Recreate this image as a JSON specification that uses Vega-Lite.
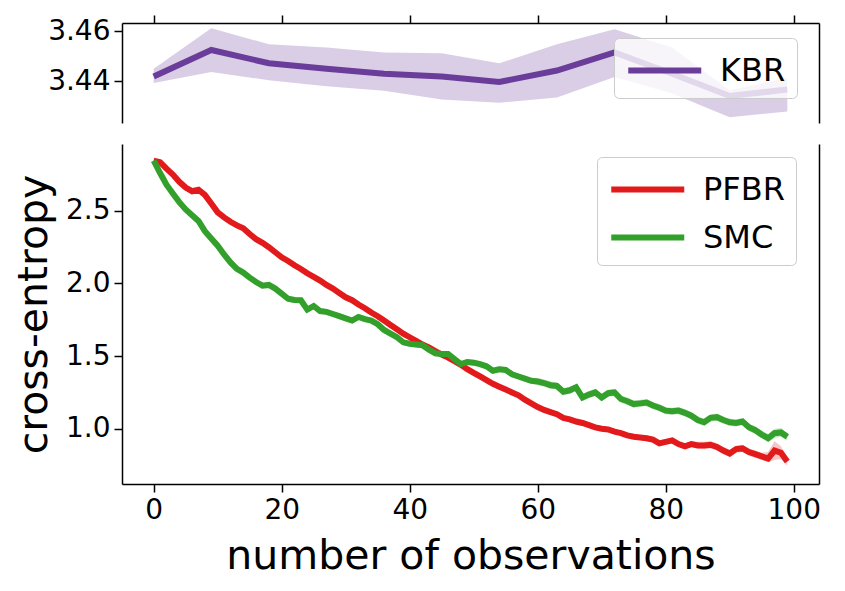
{
"$schema":"https://vega.github.io/schema/vega-lite/v6.json",
"autosize":{"type":"pad"},
"padding":{"left":13,"top":14,"right":0,"bottom":15},
"background":"white",
"config":{
 "view":{"stroke":null},
 "font":"DejaVu Sans",
 "axis":{"labelFont":"DejaVu Sans","titleFont":"DejaVu Sans","labelFontSize":28,"labelColor":"#000","tickColor":"#000","domainColor":"#000","tickSize":8,"tickWidth":1.5,"domainWidth":1.5,"grid":false,"labelPadding":4,"titleFontWeight":"normal","titleColor":"#000","titleFontSize":41},
 "legend":{"orient":"none","title":null,"symbolType":"M-1,0H3","symbolSize":1332,"symbolStrokeWidth":6,"labelFont":"DejaVu Sans","labelFontSize":32,"labelColor":"#000","labelOffset":52,"fillColor":"rgba(255,255,255,0.8)","strokeColor":"#cccccc","cornerRadius":5,"padding":11,"rowPadding":10}
},
"datasets":{
"kbr":[
{"x":0,"s":"KBR","v":3.4418,"lo":3.4392,"hi":3.4449},
{"x":9,"s":"KBR","v":3.4524,"lo":3.4436,"hi":3.4611},
{"x":18,"s":"KBR","v":3.4471,"lo":3.4403,"hi":3.4547},
{"x":27,"s":"KBR","v":3.4449,"lo":3.4379,"hi":3.4534},
{"x":36,"s":"KBR","v":3.4429,"lo":3.4361,"hi":3.4514},
{"x":45,"s":"KBR","v":3.4418,"lo":3.4326,"hi":3.4511},
{"x":54,"s":"KBR","v":3.4396,"lo":3.4313,"hi":3.4471},
{"x":63,"s":"KBR","v":3.4442,"lo":3.4334,"hi":3.4547},
{"x":72,"s":"KBR","v":3.4514,"lo":3.4416,"hi":3.4607},
{"x":81,"s":"KBR","v":3.4429,"lo":3.435,"hi":3.4534},
{"x":90,"s":"KBR","v":3.434,"lo":3.4255,"hi":3.4363},
{"x":99,"s":"KBR","v":3.4366,"lo":3.4278,"hi":3.4413}
],
"main":[
{"x":0,"s":"PFBR","v":2.845,"lo":2.835,"hi":2.855},
{"x":1,"s":"PFBR","v":2.835,"lo":2.825,"hi":2.845},
{"x":2,"s":"PFBR","v":2.79,"lo":2.775,"hi":2.805},
{"x":3,"s":"PFBR","v":2.75,"lo":2.735,"hi":2.765},
{"x":4,"s":"PFBR","v":2.70,"lo":2.685,"hi":2.715},
{"x":5,"s":"PFBR","v":2.66,"lo":2.645,"hi":2.675},
{"x":6,"s":"PFBR","v":2.635,"lo":2.62,"hi":2.65},
{"x":7,"s":"PFBR","v":2.645,"lo":2.63,"hi":2.66},
{"x":8,"s":"PFBR","v":2.61,"lo":2.595,"hi":2.625},
{"x":9,"s":"PFBR","v":2.55,"lo":2.535,"hi":2.565},
{"x":10,"s":"PFBR","v":2.49,"lo":2.475,"hi":2.505},
{"x":11,"s":"PFBR","v":2.455,"lo":2.44,"hi":2.47},
{"x":12,"s":"PFBR","v":2.425,"lo":2.41,"hi":2.44},
{"x":13,"s":"PFBR","v":2.40,"lo":2.385,"hi":2.415},
{"x":14,"s":"PFBR","v":2.38,"lo":2.365,"hi":2.395},
{"x":15,"s":"PFBR","v":2.34,"lo":2.325,"hi":2.355},
{"x":16,"s":"PFBR","v":2.305,"lo":2.29,"hi":2.32},
{"x":17,"s":"PFBR","v":2.28,"lo":2.265,"hi":2.295},
{"x":18,"s":"PFBR","v":2.25,"lo":2.235,"hi":2.265},
{"x":19,"s":"PFBR","v":2.215,"lo":2.20,"hi":2.23},
{"x":20,"s":"PFBR","v":2.18,"lo":2.165,"hi":2.195},
{"x":21,"s":"PFBR","v":2.155,"lo":2.14,"hi":2.17},
{"x":22,"s":"PFBR","v":2.125,"lo":2.11,"hi":2.14},
{"x":23,"s":"PFBR","v":2.10,"lo":2.085,"hi":2.115},
{"x":24,"s":"PFBR","v":2.07,"lo":2.055,"hi":2.085},
{"x":25,"s":"PFBR","v":2.045,"lo":2.03,"hi":2.06},
{"x":26,"s":"PFBR","v":2.02,"lo":2.005,"hi":2.035},
{"x":27,"s":"PFBR","v":1.99,"lo":1.975,"hi":2.005},
{"x":28,"s":"PFBR","v":1.965,"lo":1.95,"hi":1.98},
{"x":29,"s":"PFBR","v":1.935,"lo":1.92,"hi":1.95},
{"x":30,"s":"PFBR","v":1.905,"lo":1.89,"hi":1.92},
{"x":31,"s":"PFBR","v":1.885,"lo":1.87,"hi":1.90},
{"x":32,"s":"PFBR","v":1.855,"lo":1.84,"hi":1.87},
{"x":33,"s":"PFBR","v":1.83,"lo":1.815,"hi":1.845},
{"x":34,"s":"PFBR","v":1.80,"lo":1.785,"hi":1.815},
{"x":35,"s":"PFBR","v":1.775,"lo":1.76,"hi":1.79},
{"x":36,"s":"PFBR","v":1.745,"lo":1.73,"hi":1.76},
{"x":37,"s":"PFBR","v":1.715,"lo":1.70,"hi":1.73},
{"x":38,"s":"PFBR","v":1.685,"lo":1.67,"hi":1.70},
{"x":39,"s":"PFBR","v":1.655,"lo":1.64,"hi":1.67},
{"x":40,"s":"PFBR","v":1.63,"lo":1.615,"hi":1.645},
{"x":41,"s":"PFBR","v":1.605,"lo":1.59,"hi":1.62},
{"x":42,"s":"PFBR","v":1.58,"lo":1.565,"hi":1.595},
{"x":43,"s":"PFBR","v":1.56,"lo":1.545,"hi":1.575},
{"x":44,"s":"PFBR","v":1.535,"lo":1.52,"hi":1.55},
{"x":45,"s":"PFBR","v":1.51,"lo":1.495,"hi":1.525},
{"x":46,"s":"PFBR","v":1.49,"lo":1.475,"hi":1.505},
{"x":47,"s":"PFBR","v":1.465,"lo":1.45,"hi":1.48},
{"x":48,"s":"PFBR","v":1.44,"lo":1.425,"hi":1.455},
{"x":49,"s":"PFBR","v":1.41,"lo":1.395,"hi":1.425},
{"x":50,"s":"PFBR","v":1.385,"lo":1.37,"hi":1.40},
{"x":51,"s":"PFBR","v":1.36,"lo":1.345,"hi":1.375},
{"x":52,"s":"PFBR","v":1.335,"lo":1.32,"hi":1.35},
{"x":53,"s":"PFBR","v":1.31,"lo":1.295,"hi":1.325},
{"x":54,"s":"PFBR","v":1.29,"lo":1.275,"hi":1.305},
{"x":55,"s":"PFBR","v":1.27,"lo":1.255,"hi":1.285},
{"x":56,"s":"PFBR","v":1.25,"lo":1.235,"hi":1.265},
{"x":57,"s":"PFBR","v":1.23,"lo":1.215,"hi":1.245},
{"x":58,"s":"PFBR","v":1.20,"lo":1.185,"hi":1.215},
{"x":59,"s":"PFBR","v":1.175,"lo":1.16,"hi":1.19},
{"x":60,"s":"PFBR","v":1.15,"lo":1.135,"hi":1.165},
{"x":61,"s":"PFBR","v":1.13,"lo":1.115,"hi":1.145},
{"x":62,"s":"PFBR","v":1.115,"lo":1.10,"hi":1.13},
{"x":63,"s":"PFBR","v":1.10,"lo":1.085,"hi":1.115},
{"x":64,"s":"PFBR","v":1.075,"lo":1.06,"hi":1.09},
{"x":65,"s":"PFBR","v":1.065,"lo":1.05,"hi":1.08},
{"x":66,"s":"PFBR","v":1.05,"lo":1.035,"hi":1.065},
{"x":67,"s":"PFBR","v":1.04,"lo":1.025,"hi":1.055},
{"x":68,"s":"PFBR","v":1.025,"lo":1.01,"hi":1.04},
{"x":69,"s":"PFBR","v":1.01,"lo":0.995,"hi":1.025},
{"x":70,"s":"PFBR","v":1.00,"lo":0.985,"hi":1.015},
{"x":71,"s":"PFBR","v":0.995,"lo":0.98,"hi":1.01},
{"x":72,"s":"PFBR","v":0.98,"lo":0.965,"hi":0.995},
{"x":73,"s":"PFBR","v":0.97,"lo":0.955,"hi":0.985},
{"x":74,"s":"PFBR","v":0.955,"lo":0.94,"hi":0.97},
{"x":75,"s":"PFBR","v":0.945,"lo":0.93,"hi":0.96},
{"x":76,"s":"PFBR","v":0.94,"lo":0.925,"hi":0.955},
{"x":77,"s":"PFBR","v":0.935,"lo":0.915,"hi":0.955},
{"x":78,"s":"PFBR","v":0.925,"lo":0.905,"hi":0.945},
{"x":79,"s":"PFBR","v":0.90,"lo":0.88,"hi":0.92},
{"x":80,"s":"PFBR","v":0.91,"lo":0.89,"hi":0.93},
{"x":81,"s":"PFBR","v":0.92,"lo":0.90,"hi":0.94},
{"x":82,"s":"PFBR","v":0.895,"lo":0.875,"hi":0.915},
{"x":83,"s":"PFBR","v":0.88,"lo":0.86,"hi":0.90},
{"x":84,"s":"PFBR","v":0.895,"lo":0.875,"hi":0.915},
{"x":85,"s":"PFBR","v":0.885,"lo":0.865,"hi":0.91},
{"x":86,"s":"PFBR","v":0.885,"lo":0.86,"hi":0.91},
{"x":87,"s":"PFBR","v":0.89,"lo":0.865,"hi":0.915},
{"x":88,"s":"PFBR","v":0.875,"lo":0.85,"hi":0.90},
{"x":89,"s":"PFBR","v":0.85,"lo":0.825,"hi":0.875},
{"x":90,"s":"PFBR","v":0.83,"lo":0.805,"hi":0.855},
{"x":91,"s":"PFBR","v":0.86,"lo":0.835,"hi":0.885},
{"x":92,"s":"PFBR","v":0.865,"lo":0.84,"hi":0.89},
{"x":93,"s":"PFBR","v":0.84,"lo":0.815,"hi":0.865},
{"x":94,"s":"PFBR","v":0.825,"lo":0.80,"hi":0.85},
{"x":95,"s":"PFBR","v":0.81,"lo":0.785,"hi":0.835},
{"x":96,"s":"PFBR","v":0.795,"lo":0.77,"hi":0.84},
{"x":97,"s":"PFBR","v":0.85,"lo":0.785,"hi":0.915},
{"x":98,"s":"PFBR","v":0.835,"lo":0.79,"hi":0.88},
{"x":99,"s":"PFBR","v":0.775,"lo":0.745,"hi":0.805},
{"x":0,"s":"SMC","v":2.845,"lo":2.835,"hi":2.855},
{"x":1,"s":"SMC","v":2.76,"lo":2.745,"hi":2.775},
{"x":2,"s":"SMC","v":2.68,"lo":2.665,"hi":2.695},
{"x":3,"s":"SMC","v":2.62,"lo":2.60,"hi":2.64},
{"x":4,"s":"SMC","v":2.56,"lo":2.54,"hi":2.58},
{"x":5,"s":"SMC","v":2.51,"lo":2.49,"hi":2.53},
{"x":6,"s":"SMC","v":2.47,"lo":2.45,"hi":2.49},
{"x":7,"s":"SMC","v":2.43,"lo":2.41,"hi":2.45},
{"x":8,"s":"SMC","v":2.36,"lo":2.34,"hi":2.38},
{"x":9,"s":"SMC","v":2.31,"lo":2.29,"hi":2.33},
{"x":10,"s":"SMC","v":2.26,"lo":2.24,"hi":2.28},
{"x":11,"s":"SMC","v":2.20,"lo":2.18,"hi":2.22},
{"x":12,"s":"SMC","v":2.145,"lo":2.125,"hi":2.165},
{"x":13,"s":"SMC","v":2.10,"lo":2.08,"hi":2.12},
{"x":14,"s":"SMC","v":2.075,"lo":2.055,"hi":2.095},
{"x":15,"s":"SMC","v":2.04,"lo":2.02,"hi":2.06},
{"x":16,"s":"SMC","v":2.01,"lo":1.99,"hi":2.03},
{"x":17,"s":"SMC","v":1.985,"lo":1.965,"hi":2.005},
{"x":18,"s":"SMC","v":1.99,"lo":1.97,"hi":2.01},
{"x":19,"s":"SMC","v":1.965,"lo":1.945,"hi":1.985},
{"x":20,"s":"SMC","v":1.93,"lo":1.91,"hi":1.95},
{"x":21,"s":"SMC","v":1.895,"lo":1.875,"hi":1.915},
{"x":22,"s":"SMC","v":1.886,"lo":1.866,"hi":1.906},
{"x":23,"s":"SMC","v":1.885,"lo":1.865,"hi":1.905},
{"x":24,"s":"SMC","v":1.82,"lo":1.80,"hi":1.84},
{"x":25,"s":"SMC","v":1.845,"lo":1.825,"hi":1.865},
{"x":26,"s":"SMC","v":1.81,"lo":1.79,"hi":1.83},
{"x":27,"s":"SMC","v":1.805,"lo":1.785,"hi":1.825},
{"x":28,"s":"SMC","v":1.79,"lo":1.77,"hi":1.81},
{"x":29,"s":"SMC","v":1.775,"lo":1.755,"hi":1.795},
{"x":30,"s":"SMC","v":1.76,"lo":1.74,"hi":1.78},
{"x":31,"s":"SMC","v":1.745,"lo":1.725,"hi":1.765},
{"x":32,"s":"SMC","v":1.77,"lo":1.75,"hi":1.79},
{"x":33,"s":"SMC","v":1.755,"lo":1.735,"hi":1.775},
{"x":34,"s":"SMC","v":1.745,"lo":1.725,"hi":1.765},
{"x":35,"s":"SMC","v":1.72,"lo":1.70,"hi":1.74},
{"x":36,"s":"SMC","v":1.68,"lo":1.66,"hi":1.70},
{"x":37,"s":"SMC","v":1.655,"lo":1.635,"hi":1.675},
{"x":38,"s":"SMC","v":1.63,"lo":1.61,"hi":1.65},
{"x":39,"s":"SMC","v":1.595,"lo":1.575,"hi":1.615},
{"x":40,"s":"SMC","v":1.585,"lo":1.565,"hi":1.605},
{"x":41,"s":"SMC","v":1.58,"lo":1.56,"hi":1.60},
{"x":42,"s":"SMC","v":1.575,"lo":1.555,"hi":1.595},
{"x":43,"s":"SMC","v":1.545,"lo":1.525,"hi":1.565},
{"x":44,"s":"SMC","v":1.52,"lo":1.50,"hi":1.54},
{"x":45,"s":"SMC","v":1.515,"lo":1.495,"hi":1.535},
{"x":46,"s":"SMC","v":1.515,"lo":1.495,"hi":1.535},
{"x":47,"s":"SMC","v":1.48,"lo":1.46,"hi":1.50},
{"x":48,"s":"SMC","v":1.445,"lo":1.425,"hi":1.465},
{"x":49,"s":"SMC","v":1.46,"lo":1.44,"hi":1.48},
{"x":50,"s":"SMC","v":1.455,"lo":1.435,"hi":1.475},
{"x":51,"s":"SMC","v":1.445,"lo":1.425,"hi":1.465},
{"x":52,"s":"SMC","v":1.43,"lo":1.41,"hi":1.45},
{"x":53,"s":"SMC","v":1.40,"lo":1.38,"hi":1.42},
{"x":54,"s":"SMC","v":1.41,"lo":1.39,"hi":1.43},
{"x":55,"s":"SMC","v":1.405,"lo":1.385,"hi":1.425},
{"x":56,"s":"SMC","v":1.375,"lo":1.355,"hi":1.395},
{"x":57,"s":"SMC","v":1.36,"lo":1.34,"hi":1.38},
{"x":58,"s":"SMC","v":1.345,"lo":1.325,"hi":1.365},
{"x":59,"s":"SMC","v":1.33,"lo":1.31,"hi":1.35},
{"x":60,"s":"SMC","v":1.325,"lo":1.30,"hi":1.35},
{"x":61,"s":"SMC","v":1.315,"lo":1.29,"hi":1.34},
{"x":62,"s":"SMC","v":1.30,"lo":1.275,"hi":1.325},
{"x":63,"s":"SMC","v":1.295,"lo":1.27,"hi":1.32},
{"x":64,"s":"SMC","v":1.255,"lo":1.23,"hi":1.28},
{"x":65,"s":"SMC","v":1.265,"lo":1.24,"hi":1.29},
{"x":66,"s":"SMC","v":1.285,"lo":1.26,"hi":1.31},
{"x":67,"s":"SMC","v":1.215,"lo":1.19,"hi":1.24},
{"x":68,"s":"SMC","v":1.235,"lo":1.21,"hi":1.26},
{"x":69,"s":"SMC","v":1.25,"lo":1.225,"hi":1.275},
{"x":70,"s":"SMC","v":1.215,"lo":1.19,"hi":1.24},
{"x":71,"s":"SMC","v":1.245,"lo":1.22,"hi":1.27},
{"x":72,"s":"SMC","v":1.25,"lo":1.225,"hi":1.275},
{"x":73,"s":"SMC","v":1.205,"lo":1.18,"hi":1.23},
{"x":74,"s":"SMC","v":1.19,"lo":1.165,"hi":1.215},
{"x":75,"s":"SMC","v":1.17,"lo":1.145,"hi":1.195},
{"x":76,"s":"SMC","v":1.175,"lo":1.15,"hi":1.20},
{"x":77,"s":"SMC","v":1.18,"lo":1.155,"hi":1.205},
{"x":78,"s":"SMC","v":1.16,"lo":1.135,"hi":1.185},
{"x":79,"s":"SMC","v":1.145,"lo":1.12,"hi":1.17},
{"x":80,"s":"SMC","v":1.125,"lo":1.10,"hi":1.15},
{"x":81,"s":"SMC","v":1.12,"lo":1.095,"hi":1.145},
{"x":82,"s":"SMC","v":1.125,"lo":1.10,"hi":1.15},
{"x":83,"s":"SMC","v":1.11,"lo":1.085,"hi":1.135},
{"x":84,"s":"SMC","v":1.09,"lo":1.065,"hi":1.115},
{"x":85,"s":"SMC","v":1.06,"lo":1.035,"hi":1.085},
{"x":86,"s":"SMC","v":1.045,"lo":1.02,"hi":1.07},
{"x":87,"s":"SMC","v":1.075,"lo":1.05,"hi":1.10},
{"x":88,"s":"SMC","v":1.08,"lo":1.055,"hi":1.105},
{"x":89,"s":"SMC","v":1.06,"lo":1.035,"hi":1.085},
{"x":90,"s":"SMC","v":1.045,"lo":1.02,"hi":1.07},
{"x":91,"s":"SMC","v":1.04,"lo":1.015,"hi":1.065},
{"x":92,"s":"SMC","v":1.05,"lo":1.025,"hi":1.075},
{"x":93,"s":"SMC","v":1.01,"lo":0.985,"hi":1.035},
{"x":94,"s":"SMC","v":0.99,"lo":0.965,"hi":1.015},
{"x":95,"s":"SMC","v":0.96,"lo":0.935,"hi":0.985},
{"x":96,"s":"SMC","v":0.935,"lo":0.905,"hi":0.965},
{"x":97,"s":"SMC","v":0.97,"lo":0.935,"hi":1.00},
{"x":98,"s":"SMC","v":0.975,"lo":0.945,"hi":1.005},
{"x":99,"s":"SMC","v":0.945,"lo":0.92,"hi":0.97}
]
},
"resolve":{"scale":{"color":"independent","x":"independent","y":"independent"},"legend":{"color":"independent"}},
"spacing":21,
"vconcat":[
{
 "width":697,"height":100,
 "data":{"name":"kbr"},
 "layer":[
  {"layer":[
   {"mark":{"type":"area","opacity":0.25,"color":"#6a3d9a"},
    "encoding":{
     "x":{"field":"x","type":"quantitative","scale":{"domain":[-4.95,103.95],"nice":false,"zero":false},"axis":{"orient":"top","labels":false,"values":[0,20,40,60,80,100],"title":null}},
     "y":{"field":"lo","type":"quantitative","scale":{"domain":[3.4232,3.4632],"nice":false,"zero":false},"axis":{"values":[3.44,3.46],"format":".2f","title":null}},
     "y2":{"field":"hi"}}},
   {"mark":{"type":"line","strokeWidth":6},
    "encoding":{
     "x":{"field":"x","type":"quantitative"},
     "y":{"field":"v","type":"quantitative"},
     "color":{"field":"s","type":"nominal","scale":{"domain":["KBR"],"range":["#6a3d9a"]},"legend":{"legendX":492,"legendY":15}}}}
  ]},
  {"mark":{"type":"line","opacity":0},
   "encoding":{
    "x":{"field":"x","type":"quantitative"},
    "y":{"field":"v","type":"quantitative","axis":{"orient":"right","labels":false,"ticks":false,"title":null}}}}
 ],
 "resolve":{"axis":{"y":"independent"}}
},
{
 "width":697,"height":340,
 "data":{"name":"main"},
 "layer":[
  {"layer":[
   {"transform":[{"filter":"datum.s === 'PFBR'"}],
    "mark":{"type":"area","opacity":0.25,"color":"#e31a1c"},
    "encoding":{
     "x":{"field":"x","type":"quantitative","scale":{"domain":[-4.95,103.95],"nice":false,"zero":false},"axis":{"orient":"bottom","values":[0,20,40,60,80,100],"title":"number of observations","titlePadding":12}},
     "y":{"field":"lo","type":"quantitative","scale":{"domain":[0.62,2.96],"nice":false,"zero":false},"axis":{"values":[1.0,1.5,2.0,2.5],"format":".1f","title":"cross-entropy","titlePadding":10}},
     "y2":{"field":"hi"}}},
   {"transform":[{"filter":"datum.s === 'SMC'"}],
    "mark":{"type":"area","opacity":0.25,"color":"#33a02c"},
    "encoding":{
     "x":{"field":"x","type":"quantitative"},
     "y":{"field":"lo","type":"quantitative"},
     "y2":{"field":"hi"}}},
   {"mark":{"type":"line","strokeWidth":6},
    "encoding":{
     "x":{"field":"x","type":"quantitative"},
     "y":{"field":"v","type":"quantitative"},
     "color":{"field":"s","type":"nominal","scale":{"domain":["PFBR","SMC"],"range":["#e31a1c","#33a02c"]},"legend":{"legendX":475,"legendY":13}}}}
  ]},
  {"mark":{"type":"line","opacity":0},
   "encoding":{
    "x":{"field":"x","type":"quantitative"},
    "y":{"field":"v","type":"quantitative","axis":{"orient":"right","labels":false,"ticks":false,"title":null}}}}
 ],
 "resolve":{"axis":{"y":"independent"}}
}
]
}
